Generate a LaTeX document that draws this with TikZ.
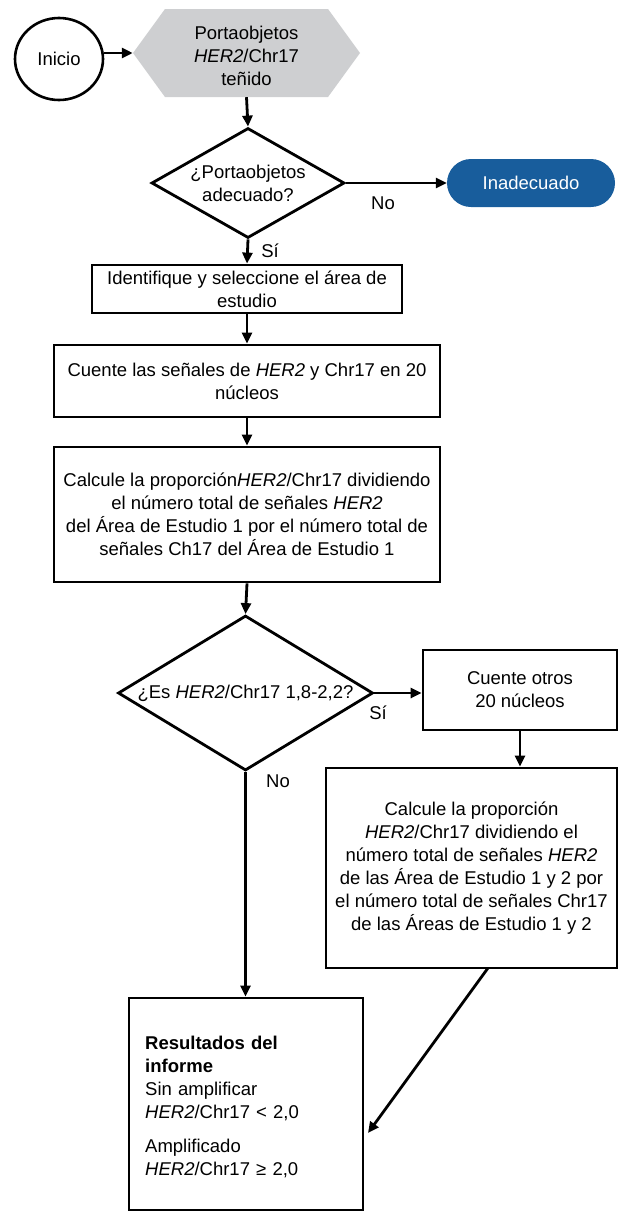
\documentclass[tikz,border=0pt]{standalone}
\usepackage{fontspec}
\setmainfont{Liberation Sans}
\usetikzlibrary{shapes.geometric,shapes.symbols,arrows.meta}
\definecolor{hexgray}{RGB}{206,207,209}
\definecolor{inblue}{RGB}{24,93,156}
\begin{document}
\begin{tikzpicture}[x=1pt,y=-1pt,
  every node/.style={font=\fontsize{18.5}{23}\selectfont, inner sep=0pt, align=center},
  box/.style={draw, line width=2.8pt, rectangle},
  dia/.style={draw, diamond, line width=2.8pt},
  conn/.style={line width=2.8pt, -{Triangle[length=11pt,width=10pt]}}]
\useasboundingbox (0,0) rectangle (618,1211);

\node[draw, ellipse, line width=2.6pt, minimum width=88pt, minimum height=82pt] (start) at (59,59) {Inicio};
\node[signal, signal to=east and west, signal pointer angle=108, fill=hexgray,
      minimum width=227pt, minimum height=88pt] (slide) at (246.5,53) {};
\node (slidet) at (246.5,56) {Portaobjetos\\\textit{HER2}/Chr17\\teñido};
\node[dia, minimum width=193pt, minimum height=110pt,
      label={center:¿Portaobjetos\\adecuado?}] (d1) at (248,183) {};
\node[rectangle, rounded corners=24pt, fill=inblue, text=white,
      minimum width=168pt, minimum height=48pt] (inad) at (531,183) {Inadecuado};
\node[box, minimum width=310pt, minimum height=48pt] (b1) at (247,289)
      {Identifique y seleccione el área de\\estudio};
\node[box, minimum width=386pt, minimum height=72pt] (b2) at (247,381)
      {Cuente las señales de \textit{HER2} y Chr17 en 20\\núcleos};
\node[box, minimum width=386pt, minimum height=135pt] (b3) at (247,514.5)
      {Calcule la proporción\textit{HER2}/Chr17 dividiendo\\el número total de señales \textit{HER2}\\del Área de Estudio 1 por el número total de\\señales Ch17 del Área de Estudio 1};
\node[dia, minimum width=255pt, minimum height=155pt,
      label={center:¿Es \textit{HER2}/Chr17 1,8-2,2?}] (d2) at (245.5,693) {};
\node[box, minimum width=194pt, minimum height=80pt] (b4) at (520,690)
      {Cuente otros\\20 núcleos};
\node[box, minimum width=291pt, minimum height=200pt] (b5) at (471.5,868)
      {Calcule la proporción\\\textit{HER2}/Chr17 dividiendo el\\número total de señales \textit{HER2}\\de las Área de Estudio 1 y 2 por\\el número total de señales Chr17\\de las Áreas de Estudio 1 y 2};
\node[box, minimum width=234pt, minimum height=212pt] (b6) at (246,1104) {};
\node[text width=205pt, align=left, anchor=west] (b6t) at (145,1107)
      {\textbf{Resultados del\\informe}\\Sin amplificar\\\textit{HER2}/Chr17 < 2,0\\[11pt]Amplificado\\\textit{HER2}/Chr17 ≥ 2,0};

\node (lno1) at (383,203) {No};
\node (lsi1) at (270,251) {Sí};
\node (lsi2) at (378,713) {Sí};
\node (lno2) at (278,781) {No};

\coordinate (diagS) at (488,968);
\coordinate (diagE) at (368,1133);

\draw[conn] (start.east |- slide.west) -- (slide.west);
\draw[conn] (slide.south) -- (d1.north);
\draw[conn] (d1.east) -- (inad.west);
\draw[conn] (d1.south) -- (b1.north);
\draw[conn] (b1.south) -- (b2.north);
\draw[conn] (b2.south) -- (b3.north);
\draw[conn] (b3.south) -- (d2.north);
\draw[conn] (d2.east) -- (d2.east -| b4.west);
\draw[conn] (b4.south) -- (b4.south |- b5.north);
\draw[conn] (d2.south) -- (d2.south |- b6.north);
\draw[conn] (diagS) -- (diagE);
\end{tikzpicture}
\end{document}
